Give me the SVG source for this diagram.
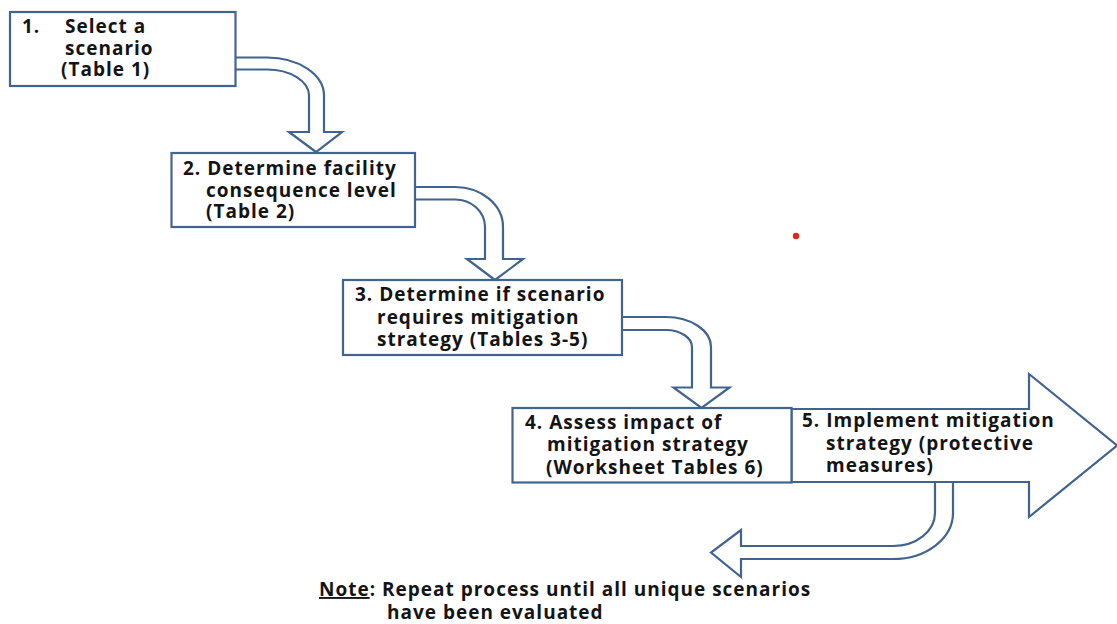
<svg xmlns="http://www.w3.org/2000/svg" width="1117" height="624" viewBox="0 0 1117 624">
<style>
.shape{fill:#fff;stroke:#41648f;stroke-width:2.2;stroke-linejoin:miter}
.t{font-family:"Open Sans","Liberation Sans",sans-serif;font-weight:700;font-size:19px;letter-spacing:1px;fill:#141414;font-variant-ligatures:none}
</style>
<rect width="1117" height="624" fill="#fff"/>
<g id="connectors">
<path class="shape" d="M235,57.5 H267 A57 38 0 0 1 324,95.5 V132 H342 L316,152 L289,132 H309 V95.5 A42 26 0 0 0 267,69.5 H235"/>
<path class="shape" d="M415,187 H455 A48 40 0 0 1 503,227 V259 H523 L495,280 L467,259 H485 V227 A30 27.5 0 0 0 455,199.5 H415"/>
<path class="shape" d="M622,317 H666 A45 30 0 0 1 711,347 V387.5 H729.5 L701.5,408 L673.5,387.5 H692 V347 A26 17 0 0 0 666,330 H622"/>
<path class="shape" d="M935,482 H953 V513 A60 46 0 0 1 893,559 H741 V577 L711,552.5 L741,530 V546 H893 A42 33 0 0 0 935,513 Z"/>
</g>
<g id="node5">
<path class="shape" d="M791.5,409 H1029 V374 L1117,445.5 L1029,517 V482 H791.5 Z"/>
<text class="t" x="802" y="427">5. Implement mitigation</text>
<text class="t" x="826" y="449.5">strategy (protective</text>
<text class="t" x="826" y="472">measures)</text>
</g>
<g id="node1">
<rect class="shape" x="10" y="12" width="225.5" height="74"/>
<text class="t" x="22" y="33">1.</text>
<text class="t" x="65" y="33">Select a</text>
<text class="t" x="65" y="54.5">scenario</text>
<text class="t" x="61" y="76">(Table 1)</text>
</g>
<g id="node2">
<rect class="shape" x="171.5" y="153" width="243.5" height="74"/>
<text class="t" x="183" y="174.5">2. Determine facility</text>
<text class="t" x="206" y="196.5">consequence level</text>
<text class="t" x="206" y="218">(Table 2)</text>
</g>
<g id="node3">
<rect class="shape" x="343" y="280" width="279" height="75"/>
<text class="t" x="355" y="301">3. Determine if scenario</text>
<text class="t" x="377" y="324">requires mitigation</text>
<text class="t" x="377" y="346">strategy (Tables 3-5)</text>
</g>
<g id="node4">
<rect class="shape" x="512.5" y="408" width="279" height="74.5"/>
<text class="t" x="525" y="428.5">4. Assess impact of</text>
<text class="t" x="547" y="451">mitigation strategy</text>
<text class="t" x="546" y="473.5">(Worksheet Tables 6)</text>
</g>
<g id="note">
<text class="t" x="319" y="596"><tspan text-decoration="underline">Note</tspan>: Repeat process until all unique scenarios</text>
<text class="t" x="387" y="619">have been evaluated</text>
</g>
<circle cx="796" cy="236" r="3.2" fill="#e8201e"/>
</svg>
